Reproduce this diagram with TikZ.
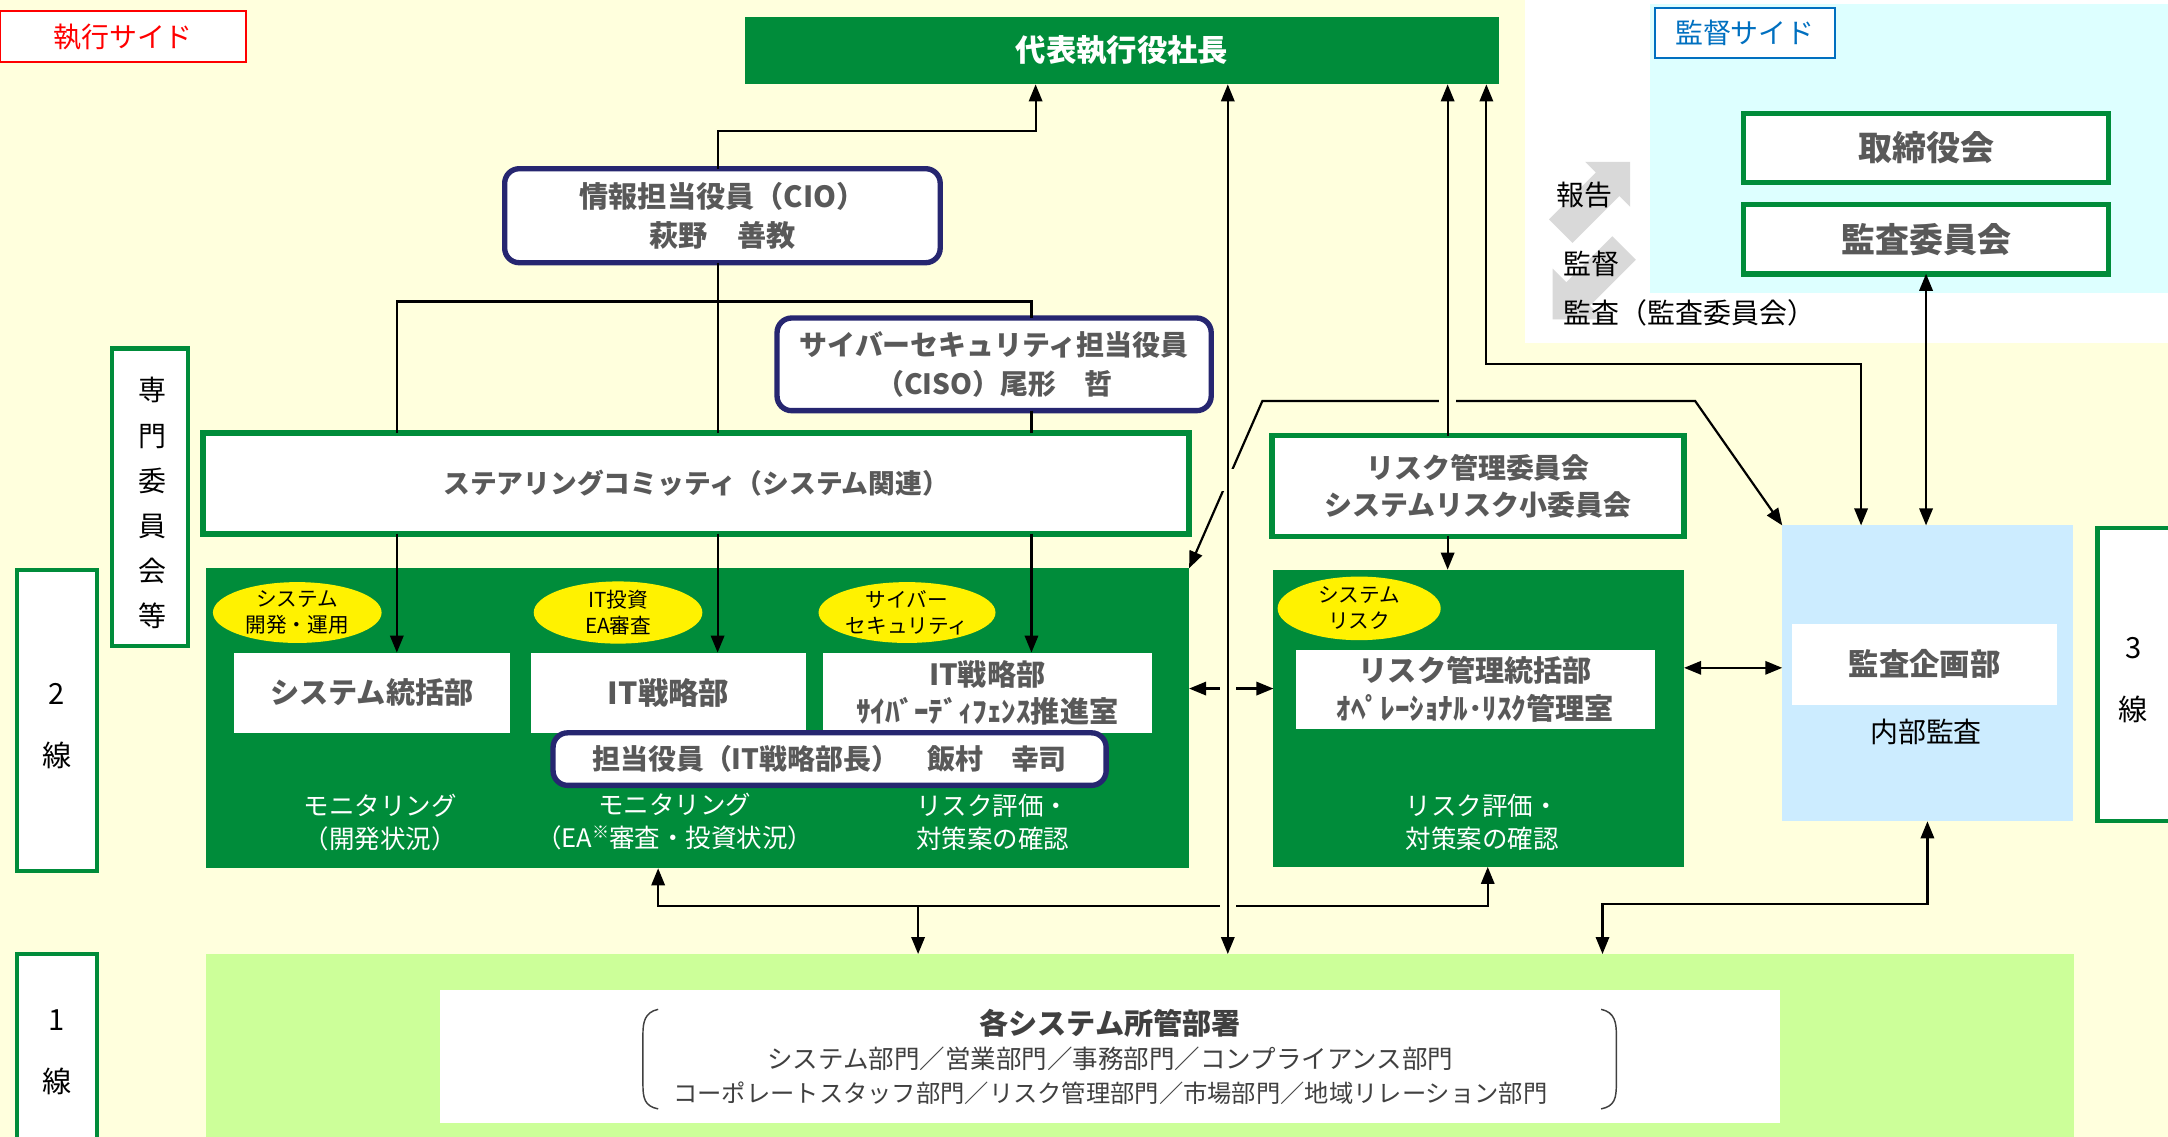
\documentclass[tikz,border=0pt]{standalone}
\usepackage{fontspec}
\setmainfont{Noto Sans CJK JP}
\usetikzlibrary{arrows.meta,shapes.geometric,fit,calc}
\definecolor{dgreen}{RGB}{0,140,58}
\definecolor{bgyel}{RGB}{255,255,221}
\definecolor{cyanbg}{RGB}{221,255,255}
\definecolor{auditbg}{RGB}{204,236,255}
\definecolor{lgreen}{RGB}{204,255,153}
\definecolor{navy}{RGB}{38,38,112}
\definecolor{tgray}{RGB}{89,89,89}
\definecolor{dgray}{RGB}{64,64,64}
\definecolor{arrgray}{RGB}{217,217,217}
\definecolor{sideblue}{RGB}{0,112,192}
\newcommand\fs[2]{\fontsize{#1}{#2}\selectfont}
\begin{document}
\begin{tikzpicture}[x=0.02cm,y=-0.02cm,
  every node/.style={inner sep=0pt, outer sep=0pt},
  gbox/.style={draw=dgreen, line width=2.3pt, fill=white, rectangle},
  lbox/.style={draw=dgreen, line width=1.7pt, fill=white, rectangle},
  nbox/.style={draw=navy, line width=2.2pt, fill=white, rounded corners=6pt},
  gblock/.style={fill=dgreen},
  wbox/.style={fill=white},
  yel/.style={ellipse, fill=yellow},
  ttl/.style={text=tgray, align=center},
  ln/.style={line width=0.9pt},
  arr/.style={ln, -{Triangle[length=7pt,width=5.5pt]}},
  dbl/.style={ln, {Triangle[length=7pt,width=5.5pt]}-{Triangle[length=7pt,width=5.5pt]}},
  gap/.style={fill=bgyel},
]
\useasboundingbox (0,0) rectangle (1568,822);
\clip (0,0) rectangle (1568,822);
% backgrounds
\fill[bgyel] (0,0) rectangle (1568,822);
\fill[white] (1103,0) rectangle (1568,248);
\fill[cyanbg] (1193,3) rectangle (1568,212);

% side labels
\node[draw=red, line width=0.8pt, fill=white, fit={(0,8) (178,45)}] (exec) {};
\node[font={\fs{11.5}{14}}, text=red] (execT) at (exec) {執行サイド};
\node[draw=sideblue, line width=0.8pt, fill=white, fit={(1197,6) (1327,42)}] (sup) {};
\node[font={\fs{11.5}{14}}, text=sideblue] (supT) at (sup) {監督サイド};

% president
\node[gblock, fit={(539,12) (1084,61)}] (pres) {};
\node[font={\fs{12.5}{15}\bfseries}, text=white] (presT) at (pres) {代表執行役社長};

% officers
\node[nbox, fit={(365,122) (680,190)}] (cio) {};
\node[ttl, font={\fs{12}{16}\bfseries}] (cioT) at (cio) {情報担当役員（CIO）\\萩野　善教};
\node[nbox, fit={(562,230) (876,297)}] (ciso) {};
\node[ttl, font={\fs{11.5}{16}\bfseries}] (cisoT) at (ciso) {サイバーセキュリティ担当役員\\（CISO）尾形　哲};

% committees
\node[gbox, fit={(147,313) (860,386)}] (steer) {};
\node[ttl, font={\fs{11}{14}\bfseries}] (steerT) at (steer) {ステアリングコミッティ（システム関連）};
\node[gbox, fit={(920,315) (1218,388)}] (riskc) {};
\node[ttl, font={\fs{11.5}{15.4}\bfseries}] (riskcT) at (riskc) {リスク管理委員会\\システムリスク小委員会};

% line labels
\node[lbox, fit={(81,252) (136,467)}] (senmon) {};
\node[font={\fs{11.5}{18.6}}, align=center] (senmonT) at (110,364) {専\\門\\委\\員\\会\\等};
\node[lbox, fit={(12,412) (70,630)}] (l2) {};
\node[font={\fs{12}{25.6}}, align=center] (l2t) at (41,525) {2\\線};
\node[lbox, fit={(12,690) (70,845)}] (l1) {};
\node[font={\fs{12}{25.6}}, align=center] (l1t) at (41,761) {1\\線};
\node[lbox, fit={(1517,382) (1585,594)}] (l3) {};
\node[font={\fs{12}{25.6}}, align=center] (l3t) at (1543,492) {3\\線};

% IT block
\node[gblock, fit={(149,411) (860,628)}] (itblk) {};
\node[yel, minimum width=2.44cm, minimum height=0.88cm] (e1) at (215,443) {};
\node[font={\fs{8.5}{10.8}}, align=center] (e1t) at (e1) {システム\\開発・運用};
\node[yel, minimum width=2.44cm, minimum height=0.9cm] (e2) at (447,443) {};
\node[font={\fs{8.5}{10.8}}, align=center] (e2t) at (e2) {IT投資\\EA審査};
\node[yel, minimum width=2.56cm, minimum height=0.88cm] (e3) at (656,443) {};
\node[font={\fs{8.5}{10.8}}, align=center] (e3t) at (e3) {サイバー\\セキュリティ};
\node[wbox, fit={(169,472) (369,530)}] (sys) {};
\node[ttl, font={\fs{12}{15}\bfseries}] (sysT) at (sys) {システム統括部};
\node[wbox, fit={(384,472) (583,530)}] (itd) {};
\node[ttl, font={\fs{12.5}{15}\bfseries}] (itdT) at (itd) {IT戦略部};
\node[wbox, fit={(595,472) (833,530)}] (cyb) {};
\node[ttl, font={\fs{12}{15.4}\bfseries}] (cybT) at (cyb) {IT戦略部\\ｻｲﾊﾞｰﾃﾞｨﾌｪﾝｽ推進室};
\node[nbox, fit={(400,530) (800,568)}] (tanto) {};
\node[ttl, font={\fs{11.5}{14}\bfseries}] (tantoT) at (tanto) {担当役員（IT戦略部長）　飯村　幸司};
\node[font={\fs{10.5}{13.7}}, text=white, align=center] (m1) at (275,595) {モニタリング\\（開発状況）};
\node[font={\fs{10.5}{13.7}}, text=white, align=center] (m2) at (488,594) {モニタリング\\（EA\raisebox{0.35em}{\fs{7}{7}※}審査・投資状況）};
\node[font={\fs{10.5}{13.7}}, text=white, align=center] (m3) at (718,595) {リスク評価・\\対策案の確認};

% risk block
\node[gblock, fit={(921,412) (1218,627)}] (riskblk) {};
\node[yel, minimum width=2.36cm, minimum height=0.92cm] (e4) at (983,440) {};
\node[font={\fs{8.5}{10.8}}, align=center] (e4t) at (e4) {システム\\リスク};
\node[wbox, fit={(937,470) (1197,527)}] (riskd) {};
\node[ttl, font={\fs{12}{15.4}\bfseries}] (riskdT) at (riskd) {リスク管理統括部\\ｵﾍﾟﾚｰｼｮﾅﾙ･ﾘｽｸ管理室};
\node[font={\fs{10.5}{13.7}}, text=white, align=center] (rt) at (1072,595) {リスク評価・\\対策案の確認};

% audit
\node[fill=auditbg, fit={(1289,380) (1499,594)}] (audit) {};
\node[wbox, fit={(1296,451) (1488,510)}] (auditd) {};
\node[ttl, font={\fs{12.5}{15}\bfseries}] (auditdT) at (auditd) {監査企画部};
\node[font={\fs{11.5}{14}}] (auditt) at (1393,529) {内部監査};

% board
\node[gbox, fit={(1261,82) (1525,132)}] (board) {};
\node[ttl, font={\fs{14}{17}\bfseries}] (boardT) at (board) {取締役会};
\node[gbox, fit={(1261,148) (1525,198)}] (acom) {};
\node[ttl, font={\fs{14}{17}\bfseries}] (acomT) at (acom) {監査委員会};

% gray arrows
\fill[arrgray] (1179,117) -- (1179,149.6) -- (1171.2,141.8) -- (1137.3,175.7) -- (1120.3,158.7) -- (1154.2,124.8) -- (1146.4,117) -- cycle;
\fill[arrgray] (1123,231) -- (1123,194.2) -- (1132.9,204.1) -- (1166.1,170.9) -- (1183.1,187.9) -- (1149.9,221.1) -- (1159.8,231) -- cycle;
\node[font={\fs{11.5}{14}}] (rep) at (1146,141) {報告};
\node[font={\fs{11.5}{14}}] (sup2) at (1151,191) {監督};
\node[font={\fs{11.5}{14}}] (aud2) at (1222,226) {監査（監査委員会）};

% first line
\node[fill=lgreen, fit={(149,690) (1500,840)}] (line1) {};
\node[fill=white, fit={(318,716) (1287,812)}] (deps) {};
\node[font={\fs{12}{14}\bfseries}, text=dgray] (d1) at (803,740) {各システム所管部署};
\node[font={\fs{10.5}{14}}, text=dgray] (d2) at (803,766) {システム部門／営業部門／事務部門／コンプライアンス部門};
\node[font={\fs{10}{14}}, text=dgray] (d3) at (803,791) {コーポレートスタッフ部門／リスク管理部門／市場部門／地域リレーション部門};
\draw[line width=0.6pt, dgray] (476,730) .. controls (466,732) and (465,740) .. (465,748) -- (465,784) .. controls (465,794) and (466,800) .. (476,802);
\draw[line width=0.6pt, dgray] (1158,730) .. controls (1168,732) and (1169,740) .. (1169,748) -- (1169,784) .. controls (1169,794) and (1168,800) .. (1158,802);

% coordinates
\coordinate (jL) at (287,218);
\coordinate (jM) at (519,218);
\coordinate (jR) at (746,218);
\coordinate (jP) at (749,95);
\coordinate (vA) at (888,655);
\coordinate (vB) at (1047,290);
\coordinate (vC) at (1075,263);
\coordinate (vD) at (1346,263);
\coordinate (dA) at (913,290);
\coordinate (dB) at (1226,290);
\coordinate (hA) at (888,498);
\coordinate (hB) at (1250,483);
\coordinate (b1) at (476,655);
\coordinate (b2) at (1076,655);
\coordinate (b3) at (664,655);
\coordinate (b4) at (1159,654);

% connectors
\draw[arr] (cio.north -| jM) |- (jP) -- (pres.south -| jP);
\draw[ln] (cio.south -| jM) -- (steer.north -| jM);
\draw[ln] (steer.north -| jL) -- (jL) -- (jR) -- (ciso.north -| jR);
\draw[ln] (ciso.south -| jR) -- (steer.north -| jR);
\draw[arr] (steer.south -| jL) -- (sys.north -| jL);
\draw[arr] (steer.south -| jM) -- (itd.north -| jM);
\draw[arr] (steer.south -| jR) -- (cyb.north -| jR);
\draw[dbl] (pres.south -| vC) -- (vC) -- (vD) -- (audit.north -| vD);
\draw[dbl] (acom.south) -- (audit.north -| acom.south);
\draw[dbl] (itblk.north east) -- (dA) -- (dB) -- (audit.north west);
\draw[dbl] (itblk.east |- hA) -- (riskblk.west |- hA);
\draw[dbl] (riskblk.east |- hB) -- (audit.west |- hB);
\draw[dbl] (itblk.south -| b1) -- (b1) -- (b2) -- (riskblk.south -| b2);
\draw[arr] (b3) -- (line1.north -| b3);
\draw[dbl] (audit.south) |- (b4) -- (line1.north -| b4);
% line jumps
\fill[gap] (882,339) rectangle (894,355);
\fill[gap] (882,494) rectangle (894,502);
\fill[gap] (882,651) rectangle (894,659);
\fill[gap] (1041,286) rectangle (1053,294);
\draw[dbl] (pres.south -| vA) -- (line1.north -| vA);
\draw[arr] (riskc.north -| vB) -- (pres.south -| vB);
\draw[arr] (riskc.south -| vB) -- (riskblk.north -| vB);
\end{tikzpicture}
\end{document}
